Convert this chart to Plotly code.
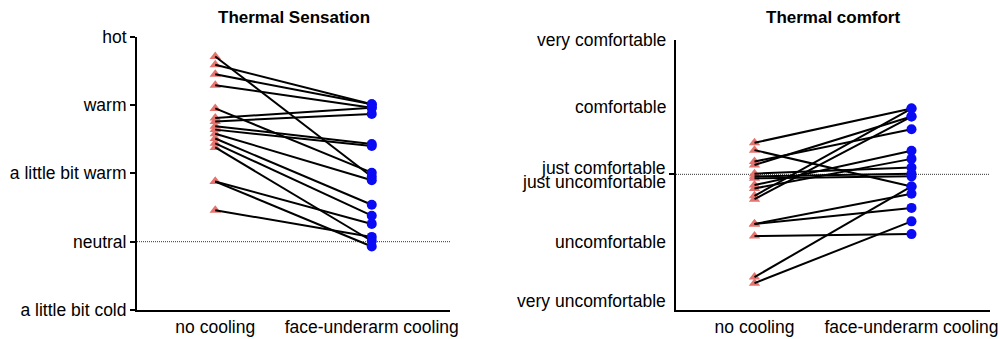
import plotly.graph_objects as go

# Paired ratings per participant: before ("no cooling") and after cooling
conditions = ["no cooling", "face-underarm cooling"]

sensation_labels = ["a little bit cold", "neutral", "a little bit warm", "warm", "hot"]
sensation_values = [-1, 0, 1, 2, 3]
sensation_no_cooling = [2.71, 2.59, 2.45, 2.29, 1.95, 1.81, 1.76, 1.69,
                        1.64, 1.58, 1.51, 1.44, 1.38, 0.88, 0.88, 0.46]
sensation_cooling = [0.95, 2.01, 2.01, 1.96, 1.01, 1.96, 1.87, 1.43,
                     1.40, 0.90, 0.54, 0.38, 0.01, 0.26, -0.07, 0.07]

comfort_labels = ["very comfortable", "comfortable", "just comfortable",
                  "just uncomfortable", "uncomfortable", "very uncomfortable"]
comfort_values = [2, 1, 0, 0, -1, -2]
comfort_no_cooling = [0.47, 0.36, 0.19, 0.14, 0.01, -0.03, -0.06, -0.16,
                      -0.21, -0.32, -0.37, -0.74, -0.74, -0.92, -1.53, -1.62]
comfort_cooling = [0.98, -0.18, 0.67, 0.86, 0.10, 0.01, -0.03, 0.35,
                   0.23, 0.98, 0.86, -0.29, -0.50, -0.89, -0.18, -0.70]

FONT = "Liberation Sans, Arial, Helvetica, sans-serif"
TRI_COLOR = "#E5736E"
DOT_COLOR = "#0A0AF5"

fig = go.Figure()


def add_panel(before, after, xa, ya):
    # triangles first, connecting lines over them, circles on top
    fig.add_trace(go.Scatter(
        x=[conditions[0]] * len(before), y=before, mode="markers",
        marker=dict(symbol="triangle-up", size=10, color=TRI_COLOR),
        xaxis=xa, yaxis=ya, showlegend=False, hoverinfo="skip"))
    lx, ly = [], []
    for b, a in zip(before, after):
        lx += [conditions[0], conditions[1], None]
        ly += [b, a, None]
    fig.add_trace(go.Scatter(
        x=lx, y=ly, mode="lines", line=dict(color="black", width=2),
        xaxis=xa, yaxis=ya, showlegend=False, hoverinfo="skip"))
    fig.add_trace(go.Scatter(
        x=[conditions[1]] * len(after), y=after, mode="markers",
        marker=dict(symbol="circle", size=10, color=DOT_COLOR),
        xaxis=xa, yaxis=ya, showlegend=False, hoverinfo="skip"))


add_panel(sensation_no_cooling, sensation_cooling, "x", "y")
add_panel(comfort_no_cooling, comfort_cooling, "x2", "y2")

H = 339.0
W = 1000.0
common_x = dict(type="category", categoryarray=conditions, range=[-0.5, 1.5],
                showline=True, linecolor="black", linewidth=2, ticks="",
                showgrid=False, zeroline=False, automargin=False,
                tickfont=dict(family=FONT, size=17.5, color="black"))

fig.update_layout(
    width=1000, height=339,
    margin=dict(l=0, r=0, t=0, b=0, autoexpand=False),
    paper_bgcolor="white", plot_bgcolor="white",
    font=dict(family=FONT, color="black"),
    xaxis=dict(domain=[137 / W, 450 / W], anchor="y", **common_x),
    xaxis2=dict(domain=[676 / W, 990 / W], anchor="y2", **common_x),
    yaxis=dict(domain=[(H - 310) / H, (H - 36.7) / H], anchor="x",
               range=[-1, 3], tickvals=sensation_values, ticktext=sensation_labels,
               showline=True, linecolor="black", linewidth=2,
               ticks="outside", ticklen=5, tickwidth=2, tickcolor="black",
               showgrid=False, zeroline=False, automargin=False,
               tickfont=dict(family=FONT, size=17.5, color="black")),
    yaxis2=dict(domain=[(H - 310) / H, (H - 40) / H], anchor="x2",
                range=[-2.02, 2.0], tickvals=[0], ticktext=[""],
                showline=True, linecolor="black", linewidth=2,
                ticks="outside", ticklen=5, tickwidth=2, tickcolor="black",
                showgrid=False, zeroline=False, automargin=False),
)

# dotted reference lines at neutral / the comfort midpoint
for xr, yr in (("x domain", "y"), ("x2 domain", "y2")):
    fig.add_shape(type="line", xref=xr, yref=yr, x0=0, x1=1, y0=0, y1=0,
                  line=dict(color="#333333", width=1, dash="1px,1px"), layer="below")

# comfort scale labels (the two middle labels sit just above / below the midpoint)
label_shift = {"just comfortable": 6, "just uncomfortable": -8,
               "very uncomfortable": 8, "uncomfortable": -1}
for lab, val in zip(comfort_labels, comfort_values):
    fig.add_annotation(xref="x2 domain", yref="y2", x=0, y=val, text=lab,
                       showarrow=False, xanchor="right", yanchor="middle",
                       xshift=-8, yshift=label_shift.get(lab, 0),
                       font=dict(family=FONT, size=17.5, color="black"))

# panel titles
for title, xc in (("Thermal Sensation", (137 + 450) / 2 / W),
                  ("Thermal comfort", (676 + 990) / 2 / W)):
    fig.add_annotation(xref="paper", yref="paper", x=xc, y=(H - 18) / H,
                       text="<b>" + title + "</b>", showarrow=False,
                       xanchor="center", yanchor="middle",
                       font=dict(family=FONT, size=17, color="black"))

fig.write_html("out.html")
